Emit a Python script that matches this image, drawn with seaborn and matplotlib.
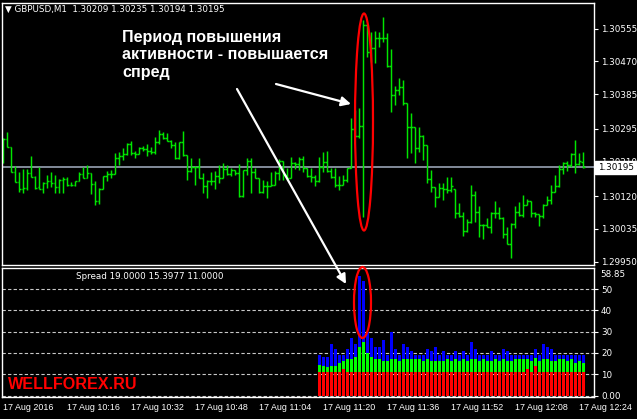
import numpy as np
import pandas as pd
import matplotlib
matplotlib.use("Agg")
import matplotlib.pyplot as plt
import matplotlib.transforms as mtransforms
from matplotlib.patches import Ellipse, FancyArrowPatch
import seaborn as sns

# GBPUSD M1 bars, 17 Aug 2016 10:00 .. 12:25 (one value per minute bar)
opens = [
    1.30210, 1.30268, 1.30247, 1.30184, 1.30156, 1.30138, 1.30140, 1.30181, 1.30169, 1.30143,
    1.30138, 1.30155, 1.30160, 1.30154, 1.30144, 1.30162, 1.30165, 1.30149, 1.30148, 1.30159,
    1.30177, 1.30167, 1.30179, 1.30152, 1.30108, 1.30139, 1.30173, 1.30177, 1.30177, 1.30218,
    1.30225, 1.30230, 1.30256, 1.30231, 1.30230, 1.30245, 1.30242, 1.30237, 1.30236, 1.30260,
    1.30281, 1.30270, 1.30264, 1.30253, 1.30218, 1.30260, 1.30226, 1.30186, 1.30197, 1.30197,
    1.30168, 1.30147, 1.30160, 1.30160, 1.30173, 1.30168, 1.30190, 1.30177, 1.30187, 1.30179,
    1.30121, 1.30187, 1.30211, 1.30184, 1.30166, 1.30130, 1.30147, 1.30147, 1.30149, 1.30179,
    1.30211, 1.30175, 1.30168, 1.30205, 1.30203, 1.30216, 1.30194, 1.30173, 1.30169, 1.30160,
    1.30195, 1.30210, 1.30186, 1.30171, 1.30149, 1.30149, 1.30162, 1.30192, 1.30294, 1.30276,
    1.30303, 1.30565, 1.30495, 1.30504, 1.30532, 1.30532, 1.30532, 1.30458, 1.30383, 1.30396,
    1.30403, 1.30361, 1.30300, 1.30300, 1.30244, 1.30276, 1.30253, 1.30164, 1.30145, 1.30119,
    1.30140, 1.30138, 1.30136, 1.30139, 1.30076, 1.30069, 1.30030, 1.30052, 1.30123, 1.30078,
    1.30044, 1.30044, 1.30039, 1.30077, 1.30076, 1.30063, 1.30021, 1.29996, 1.30048, 1.30080,
    1.30071, 1.30097, 1.30108, 1.30076, 1.30074, 1.30069, 1.30097, 1.30110, 1.30132, 1.30147,
    1.30191, 1.30205, 1.30201, 1.30230, 1.30203, 1.30209,
]
highs = [
    1.30270, 1.30286, 1.30247, 1.30199, 1.30183, 1.30191, 1.30191, 1.30224, 1.30173, 1.30195,
    1.30156, 1.30175, 1.30183, 1.30175, 1.30165, 1.30169, 1.30169, 1.30156, 1.30160, 1.30183,
    1.30195, 1.30201, 1.30179, 1.30160, 1.30141, 1.30173, 1.30186, 1.30187, 1.30231, 1.30234,
    1.30246, 1.30257, 1.30263, 1.30237, 1.30248, 1.30251, 1.30255, 1.30249, 1.30273, 1.30292,
    1.30288, 1.30283, 1.30266, 1.30262, 1.30262, 1.30289, 1.30226, 1.30218, 1.30199, 1.30220,
    1.30179, 1.30162, 1.30184, 1.30186, 1.30201, 1.30205, 1.30201, 1.30192, 1.30187, 1.30203,
    1.30188, 1.30218, 1.30220, 1.30192, 1.30166, 1.30162, 1.30160, 1.30184, 1.30186, 1.30216,
    1.30211, 1.30194, 1.30223, 1.30210, 1.30223, 1.30225, 1.30194, 1.30194, 1.30175, 1.30223,
    1.30236, 1.30237, 1.30192, 1.30192, 1.30173, 1.30175, 1.30192, 1.30322, 1.30344, 1.30348,
    1.30578, 1.30565, 1.30547, 1.30549, 1.30547, 1.30586, 1.30543, 1.30501, 1.30406, 1.30426,
    1.30423, 1.30361, 1.30335, 1.30300, 1.30299, 1.30279, 1.30253, 1.30188, 1.30145, 1.30153,
    1.30155, 1.30171, 1.30171, 1.30139, 1.30103, 1.30080, 1.30060, 1.30149, 1.30134, 1.30095,
    1.30047, 1.30064, 1.30080, 1.30108, 1.30093, 1.30065, 1.30041, 1.30050, 1.30095, 1.30106,
    1.30123, 1.30113, 1.30108, 1.30078, 1.30074, 1.30099, 1.30121, 1.30149, 1.30175, 1.30201,
    1.30210, 1.30211, 1.30231, 1.30266, 1.30231, 1.30235,
]
lows = [
    1.30207, 1.30247, 1.30184, 1.30156, 1.30132, 1.30129, 1.30137, 1.30169, 1.30138, 1.30138,
    1.30127, 1.30142, 1.30144, 1.30127, 1.30127, 1.30127, 1.30147, 1.30146, 1.30147, 1.30159,
    1.30166, 1.30166, 1.30126, 1.30096, 1.30100, 1.30138, 1.30160, 1.30166, 1.30177, 1.30201,
    1.30214, 1.30227, 1.30227, 1.30218, 1.30229, 1.30237, 1.30225, 1.30229, 1.30229, 1.30255,
    1.30268, 1.30263, 1.30244, 1.30216, 1.30217, 1.30225, 1.30162, 1.30184, 1.30149, 1.30168,
    1.30128, 1.30116, 1.30149, 1.30138, 1.30155, 1.30166, 1.30175, 1.30173, 1.30175, 1.30119,
    1.30117, 1.30175, 1.30129, 1.30166, 1.30129, 1.30128, 1.30116, 1.30147, 1.30149, 1.30162,
    1.30162, 1.30162, 1.30166, 1.30190, 1.30188, 1.30184, 1.30171, 1.30158, 1.30147, 1.30158,
    1.30184, 1.30184, 1.30168, 1.30145, 1.30135, 1.30149, 1.30158, 1.30192, 1.30275, 1.30270,
    1.30067, 1.30482, 1.30469, 1.30465, 1.30508, 1.30521, 1.30456, 1.30339, 1.30357, 1.30383,
    1.30357, 1.30218, 1.30231, 1.30207, 1.30236, 1.30214, 1.30153, 1.30132, 1.30091, 1.30119,
    1.30110, 1.30128, 1.30132, 1.30063, 1.30067, 1.30017, 1.30028, 1.30050, 1.30054, 1.30015,
    1.30008, 1.30039, 1.30025, 1.30063, 1.30060, 1.30011, 1.29996, 1.29959, 1.30037, 1.30069,
    1.30065, 1.30097, 1.30067, 1.30067, 1.30043, 1.30063, 1.30097, 1.30101, 1.30132, 1.30143,
    1.30177, 1.30186, 1.30195, 1.30181, 1.30201, 1.30194,
]
closes = [
    1.30268, 1.30247, 1.30184, 1.30156, 1.30138, 1.30140, 1.30181, 1.30169, 1.30141, 1.30138,
    1.30155, 1.30160, 1.30154, 1.30144, 1.30162, 1.30165, 1.30149, 1.30148, 1.30159, 1.30177,
    1.30167, 1.30179, 1.30152, 1.30108, 1.30139, 1.30173, 1.30177, 1.30177, 1.30218, 1.30225,
    1.30230, 1.30256, 1.30231, 1.30230, 1.30245, 1.30242, 1.30237, 1.30236, 1.30260, 1.30281,
    1.30270, 1.30264, 1.30253, 1.30218, 1.30260, 1.30226, 1.30186, 1.30197, 1.30197, 1.30168,
    1.30147, 1.30160, 1.30160, 1.30173, 1.30168, 1.30190, 1.30177, 1.30187, 1.30179, 1.30121,
    1.30187, 1.30211, 1.30184, 1.30166, 1.30130, 1.30147, 1.30147, 1.30149, 1.30179, 1.30211,
    1.30175, 1.30168, 1.30205, 1.30203, 1.30216, 1.30194, 1.30173, 1.30169, 1.30160, 1.30195,
    1.30210, 1.30186, 1.30171, 1.30149, 1.30149, 1.30162, 1.30192, 1.30294, 1.30276, 1.30303,
    1.30565, 1.30495, 1.30504, 1.30532, 1.30532, 1.30532, 1.30458, 1.30383, 1.30396, 1.30403,
    1.30361, 1.30300, 1.30300, 1.30244, 1.30276, 1.30253, 1.30164, 1.30145, 1.30119, 1.30140,
    1.30138, 1.30136, 1.30147, 1.30076, 1.30069, 1.30030, 1.30052, 1.30123, 1.30078, 1.30044,
    1.30044, 1.30039, 1.30077, 1.30076, 1.30063, 1.30021, 1.29996, 1.30048, 1.30080, 1.30071,
    1.30097, 1.30108, 1.30076, 1.30074, 1.30069, 1.30097, 1.30110, 1.30132, 1.30147, 1.30191,
    1.30205, 1.30201, 1.30230, 1.30203, 1.30212, 1.30195,
]

# spread indicator (max / average / min per bar), only for the last 67 bars
spread_first_bar = 79
spread_max = [
    19, 18, 18, 24, 22, 19, 19, 22, 27, 24,
    56, 54, 30, 27, 23, 23, 26, 19, 30, 22,
    19, 24, 23, 21, 19, 19, 19, 22, 21, 23,
    19, 21, 19, 19, 21, 19, 21, 19, 25, 22,
    19, 19, 19, 21, 19, 19, 22, 21, 19, 19,
    19, 19, 19, 19, 22, 19, 24, 23, 22, 19,
    19, 19, 19, 19, 19, 19, 19,
]
spread_avg = [
    14.3, 13.9, 13.6, 13.9, 13.9, 15.1, 16.2, 17.1, 17.1, 17.9,
    22.6, 25.2, 19.8, 17.9, 17.1, 17.1, 16.2, 16.2, 17.1, 17.1,
    16.2, 17.1, 17.1, 17.1, 17.1, 17.1, 16.2, 17.1, 16.2, 16.2,
    16.2, 16.2, 17.1, 16.2, 17.1, 16.2, 17.1, 16.2, 17.1, 17.1,
    16.2, 17.1, 16.2, 16.2, 17.1, 16.2, 17.1, 16.2, 16.2, 17.1,
    17.1, 17.1, 17.1, 16.2, 17.8, 16.2, 17.1, 17.1, 16.2, 16.2,
    17.1, 17.1, 16.2, 17.1, 15.1, 16.2, 15.4,
]
spread_min = [
    11, 11, 11, 11, 11, 11, 12.5, 11, 11, 11,
    11, 11, 11, 11, 11, 11, 11, 11, 11, 11,
    11, 11, 11, 11, 11, 11, 11, 11, 11, 11,
    11, 11, 11, 11, 11, 11, 11, 11, 11, 11,
    11, 11, 11, 11, 11, 11, 11, 11, 11, 11,
    11, 11, 12.5, 11, 14, 11, 11, 11, 11, 11,
    11, 11, 11, 11, 11, 11, 11,
]

price_ticks = [1.30555, 1.30470, 1.30385, 1.30295, 1.30210, 1.30120, 1.30035, 1.29950]
spread_ticks = [0, 10, 20, 30, 40, 50]
spread_top = 58.85
last_price = 1.30195
time_labels = ["17 Aug 2016", "17 Aug 10:16", "17 Aug 10:32", "17 Aug 10:48", "17 Aug 11:04",
               "17 Aug 11:20", "17 Aug 11:36", "17 Aug 11:52", "17 Aug 12:08", "17 Aug 12:24"]
title = "\u25bc GBPUSD,M1  1.30209 1.30235 1.30194 1.30195"
spread_title = "Spread 19.0000 15.3977 11.0000"
note = "Период повышения\nактивности - повышается\nспред"

BAR_GREEN = "#00e600"
GRID = "#c8c8c8"
W, H = 637, 419


def px_box(x0, y0, x1, y1):
    # figure rectangle from pixel corners (top-left origin)
    return [x0 / W, 1 - y1 / H, (x1 - x0) / W, (y1 - y0) / H]


def fig_xy(x, y):
    return (x / W, 1 - y / H)


def style_axes(a):
    a.set_facecolor("black")
    for s in a.spines.values():
        s.set_color("white")
        s.set_linewidth(1.0)
    a.grid(False)
    a.yaxis.tick_right()
    a.tick_params(axis="y", colors="white", labelcolor="white", length=3, width=0.8,
                  labelsize=6.3, pad=2, direction="out")
    a.set_xlabel("")
    a.set_ylabel("")


sns.set_style("dark")
plt.rcParams["font.family"] = ["DejaVu Sans"]

fig = plt.figure(figsize=(W / 100, H / 100), dpi=100, facecolor="black")
ax = fig.add_axes(px_box(2, 2.7, 594, 265))
ax2 = fig.add_axes(px_box(2, 267.5, 594, 396.5))

# ---- price panel -------------------------------------------------------
bars = pd.DataFrame({"open": opens, "high": highs, "low": lows, "close": closes})
bars["bar"] = np.arange(len(bars))

ax.axhline(last_price, color="#8c96a6", lw=1.3, zorder=1)
ax.vlines(bars["bar"], bars["low"], bars["high"], color=BAR_GREEN, lw=1.05, zorder=2)
ax.hlines(bars["open"], bars["bar"] - 0.45, bars["bar"], color=BAR_GREEN, lw=1.05, zorder=2)
ax.hlines(bars["close"], bars["bar"], bars["bar"] + 0.45, color=BAR_GREEN, lw=1.05, zorder=2)

ax.set_xlim(-0.33, 147.7)
ax.set_ylim(1.299413, 1.306225)
style_axes(ax)
ax.set_xticks([])
ax.set_yticks(price_ticks)
ax.set_yticklabels([f"{p:.5f}" for p in price_ticks])

# current price marker on the scale
trans = mtransforms.blended_transform_factory(ax.transAxes, ax.transData)
ax.text(1.006, last_price, f"{last_price:.5f}", transform=trans, ha="left", va="center",
        fontsize=6.3, color="black", zorder=5, clip_on=False,
        bbox=dict(facecolor="white", edgecolor="white", boxstyle="square,pad=0.25"))

# ---- spread panel ------------------------------------------------------
spread = pd.DataFrame({
    "bar": np.arange(spread_first_bar, spread_first_bar + len(spread_max)),
    "max": spread_max,
    "avg": spread_avg,
    "min": spread_min,
})
for v in spread_ticks:
    ax2.axhline(v, color=GRID, lw=0.8, ls=(0, (3, 2)), zorder=0.5)
for col, colour in [("max", "#0000ff"), ("avg", "#00ff00"), ("min", "#ff0000")]:
    sns.barplot(data=spread, x="bar", y=col, color=colour, native_scale=True, width=0.78,
                saturation=1, errorbar=None, linewidth=0, ax=ax2, zorder=2)

ax2.set_xlim(-0.33, 147.7)
ax2.set_ylim(-0.42, 60.1)
style_axes(ax2)
ax2.set_yticks(spread_ticks)
ax2.set_yticklabels(["0.00"] + [str(v) for v in spread_ticks[1:]])
ax2.text(1.011, spread_top, f"{spread_top:.2f}", transform=mtransforms.blended_transform_factory(
    ax2.transAxes, ax2.transData), ha="left", va="top", fontsize=6.3, color="white", clip_on=False)

ax2.set_xticks(range(0, len(bars), 16))
ax2.set_xticklabels(time_labels, ha="left", family="Liberation Sans")
ax2.tick_params(axis="x", colors="white", labelcolor="white", length=3, width=0.8,
                labelsize=6.4, pad=1.5, direction="out")

# ---- texts and highlights ---------------------------------------------
fig.text(5 / W, 1 - 9.5 / H, title, fontsize=6.3, color="white", va="center", ha="left")
fig.text(76 / W, 1 - 276 / H, spread_title, fontsize=6.3, color="white", va="center", ha="left")
fig.text(8 / W, 1 - 384.5 / H, "WELLFOREX.RU", fontsize=11.6, fontweight="bold", color="#ff0000",
         family="Liberation Sans", va="center", ha="left")
fig.text(122 / W, 1 - 30 / H, note, fontsize=11.6, fontweight="bold", color="white",
         family="Liberation Sans", va="top", ha="left", linespacing=1.2)

# arrows drawn on the figure so they run across both panels
for start, end in [((276, 84), (351, 104)), ((237, 89), (346, 284))]:
    fig.add_artist(FancyArrowPatch(fig_xy(*start), fig_xy(*end), transform=fig.transFigure,
                                   arrowstyle="-|>", color="white", lw=1.6, mutation_scale=14,
                                   shrinkA=0, shrinkB=0, zorder=7))

fig.add_artist(Ellipse(fig_xy(364, 122), 18 / W, 217 / H, transform=fig.transFigure,
                       fill=False, edgecolor="#ff0000", lw=1.6, zorder=6))
fig.add_artist(Ellipse(fig_xy(362.5, 302.5), 17 / W, 71 / H, transform=fig.transFigure,
                       fill=False, edgecolor="#ff0000", lw=1.6, zorder=6))

fig.savefig("out.png", dpi=100, facecolor="black")
